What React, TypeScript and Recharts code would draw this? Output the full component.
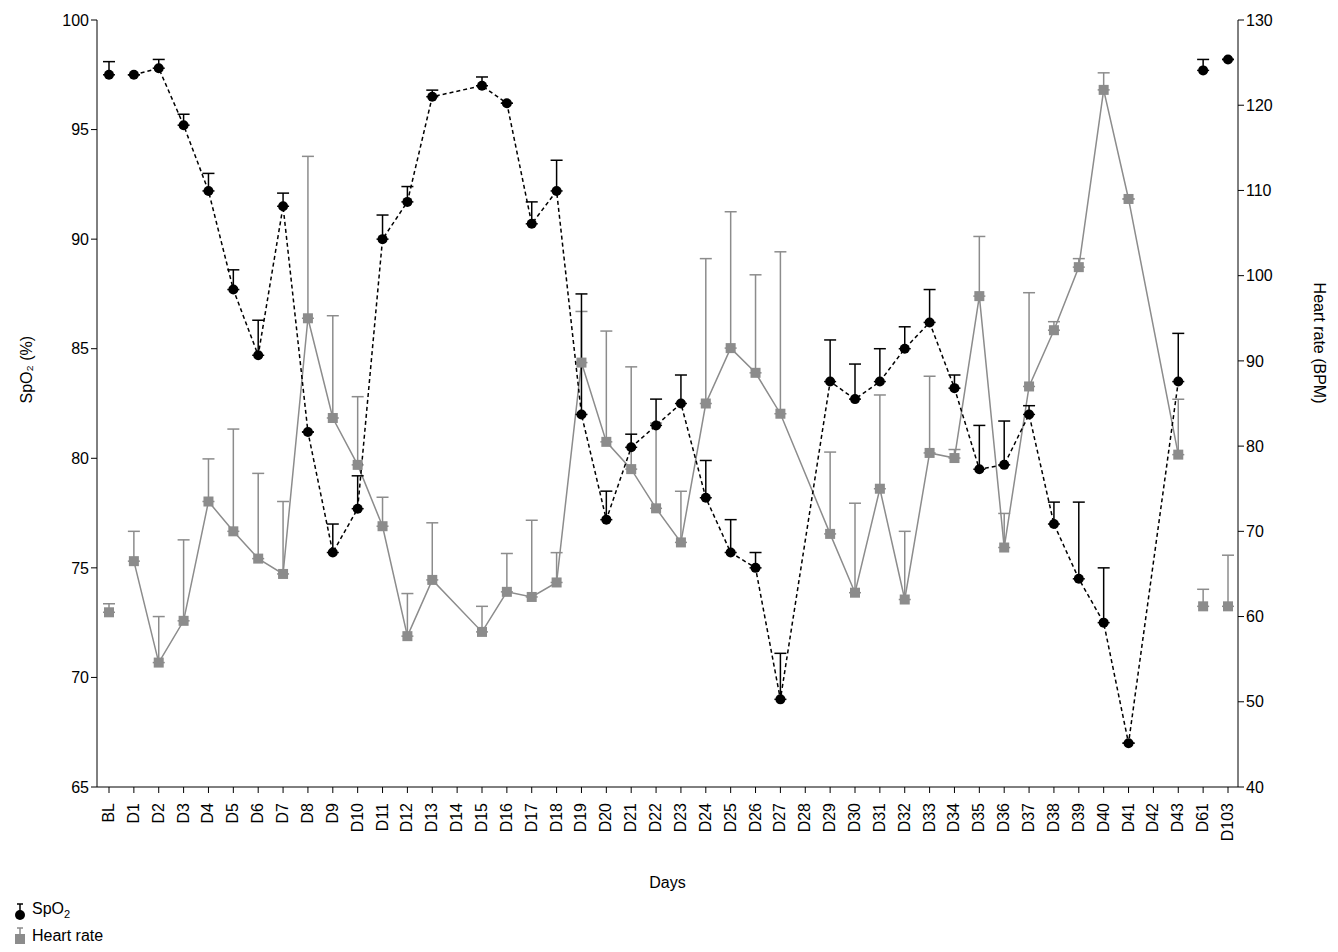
import React from "react";
import {
  ComposedChart,
  Line,
  XAxis,
  YAxis,
  ErrorBar
} from "recharts";

const days = ["BL", ...Array.from({ length: 43 }, (_, i) => "D" + (i + 1)), "D61", "D103"];

const spo2: (number | null)[] = [
  97.5, 97.5, 97.8, 95.2, 92.2, 87.7, 84.7, 91.5, 81.2, 75.7, 77.7, 90, 91.7, 96.5, null,
  97, 96.2, 90.7, 92.2, 82, 77.2, 80.5, 81.5, 82.5, 78.2, 75.7, 75, 69, null,
  83.5, 82.7, 83.5, 85, 86.2, 83.2, 79.5, 79.7, 82, 77, 74.5, 72.5, 67, null, 83.5,
  97.7, 98.2
];
const spo2Err = [
  0.6, 0, 0.4, 0.5, 0.8, 0.9, 1.6, 0.6, 0, 1.3, 1.5, 1.1, 0.7, 0.3, 0,
  0.4, 0, 1, 1.4, 5.5, 1.3, 0.6, 1.2, 1.3, 1.7, 1.5, 0.7, 2.1, 0,
  1.9, 1.6, 1.5, 1, 1.5, 0.6, 2, 2, 0.4, 1, 3.5, 2.5, 0, 0, 2.2,
  0.5, 0
];
const hr: (number | null)[] = [
  60.5, 66.5, 54.6, 59.5, 73.5, 70, 66.8, 65, 95, 83.3, 77.8, 70.6, 57.7, 64.3, null,
  58.2, 62.9, 62.3, 64, 89.8, 80.5, 77.3, 72.7, 68.7, 85, 91.5, 88.6, 83.8, null,
  69.7, 62.8, 75, 62, 79.2, 78.6, 97.6, 68.1, 87, 93.6, 101, 121.8, 109, null, 79,
  61.2, 61.2
];
const hrErr = [
  1, 3.5, 5.4, 9.5, 5, 12, 10, 8.5, 19, 12, 8, 3.4, 5, 6.7, 0,
  3, 4.5, 9, 3.5, 6, 13, 12, 10, 6, 17, 16, 11.5, 19, 0,
  9.6, 10.5, 11, 8, 9, 1, 7, 4, 11, 1, 1, 2, 0, 0, 6.5,
  2, 6
];

const data = days.map((d, i) => {
  const inner = i >= 1 && i <= 43;
  return {
    day: d,
    spo2: spo2[i],
    spo2Line: inner ? spo2[i] : null,
    spo2Err: [0, spo2Err[i]],
    hr: hr[i],
    hrLine: inner ? hr[i] : null,
    hrErr: [0, hrErr[i]]
  };
});

const font = "'Liberation Sans', Arial, sans-serif";

const SquareDot = (props: any) => {
  const { cx, cy, value } = props;
  if (value == null || cx == null || cy == null) return null;
  return <rect x={cx - 5} y={cy - 5} width={10} height={10} fill="#8c8c8c" />;
};

const RoundDot = (props: any) => {
  const { cx, cy, value } = props;
  if (value == null || cx == null || cy == null) return null;
  return <circle cx={cx} cy={cy} r={5} fill="#000" />;
};

const DayTick = (props: any) => {
  const { x, y, payload } = props;
  return (
    <text x={x} y={y + 8} transform={`rotate(-90, ${x}, ${y + 8})`} textAnchor="end" dy={5}
      fontSize={16} fill="#000" fontFamily={font}>
      {payload.value}
    </text>
  );
};

export default function App() {
  return (
    <div style={{ position: "relative", width: 1330, height: 944, fontFamily: font }}>
      <ComposedChart width={1330} height={892} data={data}
        margin={{ top: 12, right: 0, left: 0, bottom: 0 }}>
        <XAxis dataKey="day" interval={0} tick={<DayTick />} tickSize={6}
          stroke="#000" height={113} padding={{ left: 12, right: 10 }}
          label={{ value: "Days", position: "insideBottom", offset: 12, fontSize: 16, fill: "#000" }} />
        <YAxis yAxisId="l" domain={[65, 100]} ticks={[65, 70, 75, 80, 85, 90, 95, 100]}
          width={89} stroke="#000" tick={{ fontSize: 16, fill: "#000" }}
          label={{ value: "SpO₂ (%)", angle: -90, position: "insideLeft", offset: 18, fontSize: 16, fill: "#000" }} />
        <YAxis yAxisId="r" orientation="right" domain={[40, 130]}
          ticks={[40, 50, 60, 70, 80, 90, 100, 110, 120, 130]}
          width={100} stroke="#000" tick={{ fontSize: 16, fill: "#000" }}
          label={{ value: "Heart rate (BPM)", angle: 90, position: "insideRight", offset: 18, fontSize: 16, fill: "#000" }} />
        <Line yAxisId="r" dataKey="hrLine" stroke="#8c8c8c" strokeWidth={1.5} dot={false}
          connectNulls isAnimationActive={false} />
        <Line yAxisId="r" dataKey="hr" stroke="none" dot={<SquareDot />} activeDot={false}
          isAnimationActive={false}>
          <ErrorBar dataKey="hrErr" direction="y" width={6} stroke="#8c8c8c" strokeWidth={1.5} />
        </Line>
        <Line yAxisId="l" dataKey="spo2Line" stroke="#000" strokeWidth={1.5} strokeDasharray="4 3"
          dot={false} connectNulls isAnimationActive={false} />
        <Line yAxisId="l" dataKey="spo2" stroke="none" dot={<RoundDot />} activeDot={false}
          isAnimationActive={false}>
          <ErrorBar dataKey="spo2Err" direction="y" width={6} stroke="#000" strokeWidth={1.5} />
        </Line>
      </ComposedChart>
      <div style={{ position: "absolute", left: 2, top: 890, fontSize: 16, lineHeight: "22px" }}>
        <div style={{ display: "flex", alignItems: "center" }}>
          <svg width={20} height={20}>
            <line x1={10} y1={2} x2={10} y2={12} stroke="#000" strokeWidth={1.5} />
            <line x1={7} y1={2} x2={13} y2={2} stroke="#000" strokeWidth={1.5} />
            <circle cx={10} cy={13} r={5} fill="#000" />
          </svg>
          <span style={{ marginLeft: 2 }}>SpO<sub style={{ fontSize: 11 }}>2</sub></span>
        </div>
        <div style={{ display: "flex", alignItems: "center" }}>
          <svg width={20} height={20}>
            <line x1={10} y1={2} x2={10} y2={12} stroke="#8c8c8c" strokeWidth={1.5} />
            <line x1={7} y1={2} x2={13} y2={2} stroke="#8c8c8c" strokeWidth={1.5} />
            <rect x={5} y={8} width={10} height={10} fill="#8c8c8c" />
          </svg>
          <span style={{ marginLeft: 2 }}>Heart rate</span>
        </div>
      </div>
    </div>
  );
}
